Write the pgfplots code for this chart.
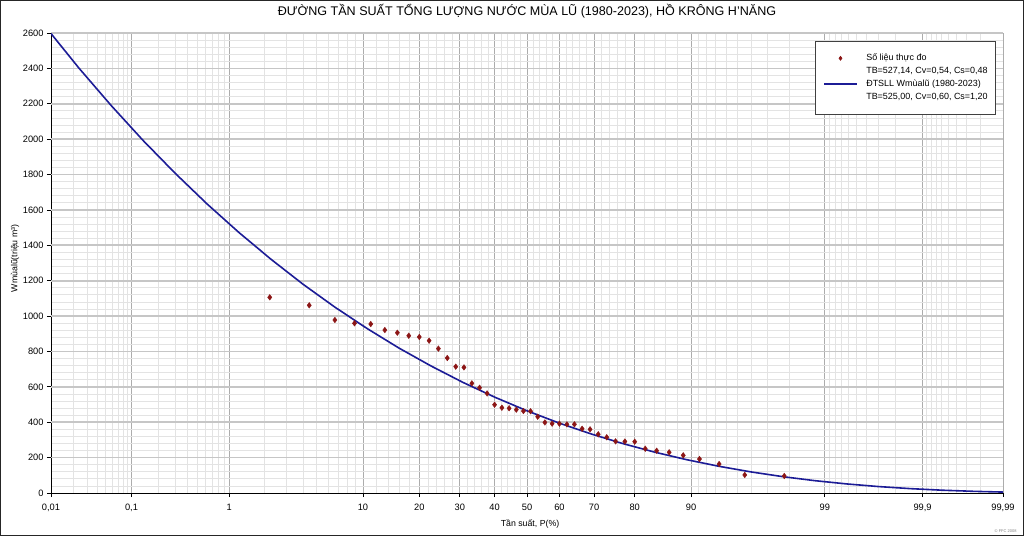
\documentclass[border=0pt]{standalone}
\usepackage{pgfplots}
\pgfplotsset{compat=1.18}
\usepackage{fontspec}
\setmainfont{Liberation Sans}
\definecolor{obs}{RGB}{140,22,22}
\definecolor{fit}{RGB}{28,28,150}
\pgfplotsset{
  long line legend/.style={legend image code/.code={\draw[##1, line width=1.6bp] (0bp,0bp) -- (33bp,0bp);}},
  small mark legend/.style={legend image code/.code={\path[draw=none, fill=none] (0bp,0bp) rectangle (33bp,0bp);
      \draw[##1, mark size=2bp] plot coordinates {(16bp,0bp)};}}
}

% x = normal quantile of P (probability paper)
\pgfplotstableread{
x y
-2.0099 1106
-1.7015 1061
-1.5011 978
-1.3476 959
-1.2206 955
-1.1108 921
-1.0129 906
-0.9239 889
-0.8416 882
-0.7647 861
-0.6921 816
-0.6229 763
-0.5566 714
-0.4927 710
-0.4307 620
-0.3705 595
-0.3117 563
-0.2533 499
-0.1963 482
-0.1397 479
-0.0836 471
-0.0279 463
0.0279 462
0.0836 431
0.1397 399
0.1963 392
0.2533 392
0.3117 388
0.3705 388
0.4307 363
0.4927 360
0.5566 332
0.6229 315
0.6921 292
0.7647 291
0.8416 290
0.9239 250
1.0129 239
1.1108 230
1.2206 213
1.3476 192
1.5011 164
1.7015 102
2.0099 96
}\obsdata

\pgfplotstableread{
x y
-3.719 2597
-3.5 2401
-3.25 2191
-3.0 1993
-2.75 1808
-2.5 1634
-2.25 1472
-2.0 1321
-1.75 1180
-1.5 1050
-1.25 930
-1.0 819
-0.75 718
-0.5 625
-0.25 541
0 464.5
0.25 395.6
0.5 334
0.75 279
1.0 230.5
1.25 187.9
1.5 150.9
1.75 119.2
2.0 92.2
2.25 69.6
2.5 51.1
2.75 36.2
3.0 24.5
3.25 15.6
3.5 9.2
3.719 5.3
}\fitdata

\begin{document}
\begin{tikzpicture}
\begin{axis}[
  width=952bp, height=460bp, scale only axis,
  xmin=-3.719, xmax=3.719, ymin=0, ymax=2600,
  axis lines*=left,
  axis line style={-, black, line width=0.8bp},
  xtick={-3.719,-3.0902,-2.3263,-1.2816,-0.8416,-0.5244,-0.2533,0,0.2533,0.5244,0.8416,1.2816,2.3263,3.0902,3.719},
  xticklabels={{0,01},{0,1},1,10,20,30,40,50,60,70,80,90,99,{99,9},{99,99}},
  minor xtick={-3.5401,-3.4316,-3.3528,-3.2905,-3.2389,-3.1947,-3.1559,-3.1214,
    -2.8782,-2.7478,-2.6521,-2.5758,-2.5121,-2.4573,-2.4089,-2.3656,
    -2.0537,-1.8808,-1.7507,-1.6449,-1.5548,-1.4758,-1.4051,-1.3408,
    -1.1750,-1.0803,-0.9945,-0.9154,-0.7722,-0.7063,-0.6433,-0.5828,
    -0.4677,-0.4125,-0.3585,-0.3055,-0.2019,-0.1510,-0.1004,-0.0502,
    0.0502,0.1004,0.1510,0.2019,0.3055,0.3585,0.4125,0.4677,
    0.5828,0.6433,0.7063,0.7722,0.9154,0.9945,1.0803,1.1750,
    1.3408,1.4051,1.4758,1.5548,1.6449,1.7507,1.8808,2.0537,
    2.3656,2.4089,2.4573,2.5121,2.5758,2.6521,2.7478,2.8782,
    3.1214,3.1559,3.1947,3.2389,3.2905,3.3528,3.4316,3.5401},
  ytick={0,200,...,2600},
  minor y tick num=4,
  grid=both,
  ymajorgrids=false,
  major grid style={gray!65, line width=0.9bp},
  minor grid style={gray!22, line width=0.8bp},
  extra y ticks={200,400,...,2600},
  extra y tick labels={},
  extra y tick style={grid=major, major grid style={gray!45, line width=1.7bp}, major tick length=0pt},
  tick align=outside, tick pos=left,
  major tick length=4bp, minor tick length=0pt,
  tick style={black, line width=0.8bp},
  tick label style={font=\fontsize{9.3}{10}\selectfont},
  xticklabel style={yshift=-4bp},
  /pgf/number format/assume math mode=true,
  /pgf/number format/set thousands separator={},
  title={ĐƯỜNG TẦN SUẤT TỔNG LƯỢNG NƯỚC MÙA LŨ (1980-2023), HỒ KRÔNG H'NĂNG},
  title style={font=\fontsize{12.6}{14}\selectfont, at={(rel axis cs:0.5,1)}, anchor=center, yshift=16bp},
  xlabel={Tần suất, P(\%)},
  xlabel style={font=\fontsize{8.8}{10}\selectfont, at={(rel axis cs:0.5,0)}, anchor=center, xshift=3bp, yshift=-31bp},
  ylabel={Wmùalũ(triệu m³)},
  ylabel style={font=\fontsize{8.8}{10}\selectfont, at={(rel axis cs:0,0.51)}, anchor=center, yshift=36bp},
  legend style={at={(0.9926,0.9826)}, anchor=north east, draw=black!75, fill=white,
    line width=0.6bp, font=\fontsize{9}{10}\selectfont,
    inner xsep=8bp, inner ysep=12.5bp, row sep=4bp, column sep=8bp,
    nodes={inner sep=0pt, text height=7bp, text depth=2bp}},
  legend cell align=left,
]
\coordinate (sw) at (rel axis cs:0,0);
\coordinate (se) at (rel axis cs:1,0);
\coordinate (ne) at (rel axis cs:1,1);
\addplot[only marks, mark=diamond*, mark size=2.8bp, color=obs, small mark legend] table {\obsdata};
\addlegendentry{Số liệu thực đo}
\addlegendimage{empty legend}
\addlegendentry{TB=527,14, Cv=0,54, Cs=0,48}
\addplot[fit, line width=1.6bp, mark=none, long line legend] table {\fitdata};
\addlegendentry{ĐTSLL Wmùalũ (1980-2023)}
\addlegendimage{empty legend}
\addlegendentry{TB=525,00, Cv=0,60, Cs=1,20}
\end{axis}
\node[font=\fontsize{4}{5}\selectfont, text=gray, anchor=east] at ([shift={(17bp,-38bp)}]se) {© FFC 2008};
\draw[line width=1.5bp, black!85] ([shift={(-50.25bp,-42.25bp)}]sw) rectangle ([shift={(20.25bp,32.25bp)}]ne);
\pgfresetboundingbox
\path[use as bounding box] ([shift={(-51bp,-43bp)}]sw) rectangle ([shift={(21bp,33bp)}]ne);
\end{tikzpicture}
\end{document}
